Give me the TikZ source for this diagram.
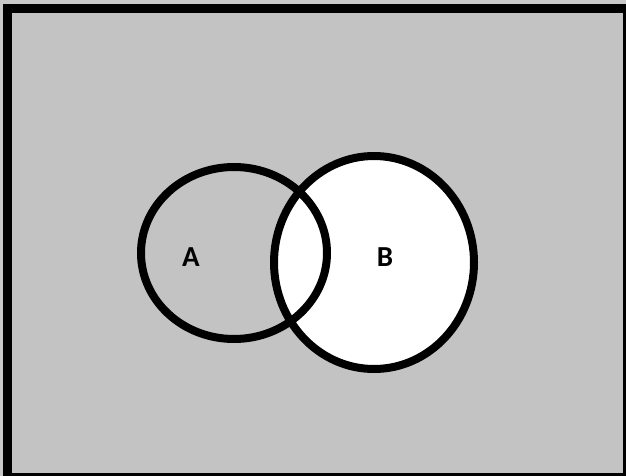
\documentclass[tikz,border=0pt]{standalone}
\usepackage{fontspec}
\setmainfont{Carlito}
\definecolor{bggray}{RGB}{195,195,195}
\definecolor{edgegray}{RGB}{200,200,200}
\begin{document}
\begin{tikzpicture}[x=1pt,y=-1pt,
  ring/.style={draw=black,line width=8pt},
  lbl/.style={font=\fontsize{29}{32}\selectfont\bfseries,inner sep=0pt}]
\useasboundingbox (0,0) rectangle (626,476);
\fill[edgegray] (0,0) rectangle (626,476);
\fill[black] (3,4) rectangle (626,476);
\fill[bggray] (12,13) rectangle (623,473);
\coordinate (ca) at (234,253);
\coordinate (cb) at (374,262.5);
\fill[white] (cb) ellipse [x radius=100, y radius=106.5];
\draw[ring] (ca) ellipse [x radius=93, y radius=86];
\draw[ring] (cb) ellipse [x radius=100, y radius=106.5];
\node[lbl] (A) at (191,257) {A};
\node[lbl] (B) at (385,257) {B};
\end{tikzpicture}
\end{document}
